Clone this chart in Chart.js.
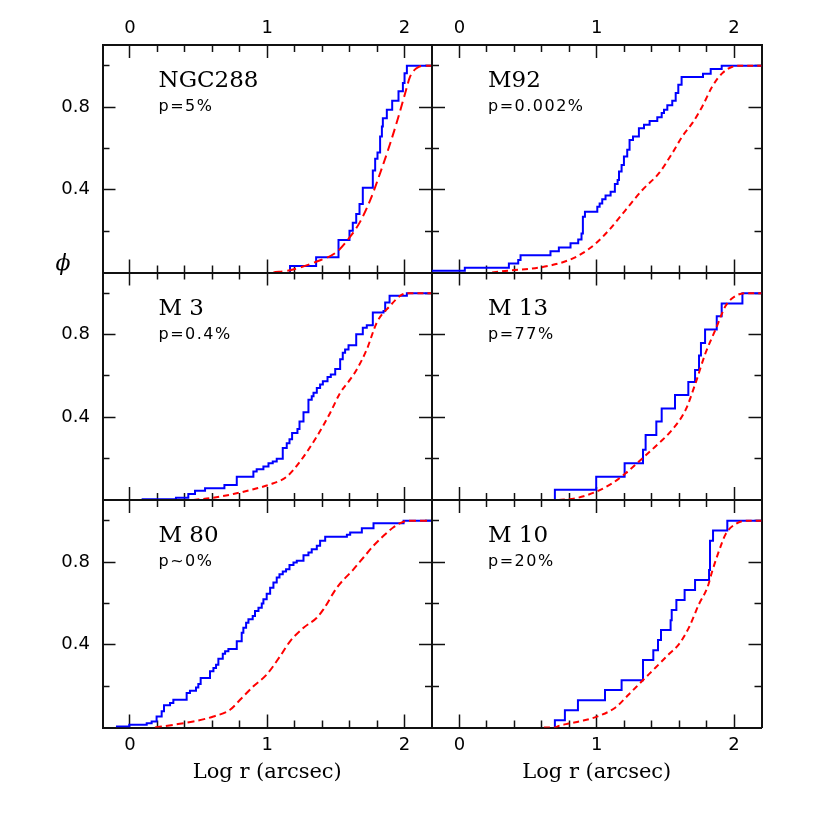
<!DOCTYPE html>
<html>
<head>
<meta charset="utf-8">
<script src="https://cdn.jsdelivr.net/npm/chart.js@4.4.0/dist/chart.umd.min.js"></script>
<style>
    html, body { margin: 0; padding: 0; background: #fff; }
    #wrap { position: relative; width: 830px; height: 830px; }
    #wrap canvas { position: absolute; left: 0; top: 0; }
</style>
</head>
<body>
<div id="wrap"></div>
<script>
// axis ticks
const xMajorTicks = [0, 1, 2];
const xMinorTicks = [0.2, 0.4, 0.6, 0.8, 1.2, 1.4, 1.6, 1.8];
const yMajorTicks = [0.4, 0.8];
const yMinorTicks = [0.2, 0.6, 1.0];

const clusterNames = ['NGC288', 'M92', 'M 3', 'M 13', 'M 80', 'M 10'];
const pValues = ['p=5%', 'p=0.002%', 'p=0.4%', 'p=77%', 'p~0%', 'p=20%'];

// NGC288
const ngc288ObsX = [1.166, 1.166, 1.356, 1.519, 1.599, 1.623, 1.648, 1.672, 1.696, 1.769, 1.786, 1.803, 1.822, 1.835, 1.842, 1.871, 1.910, 1.956, 1.988, 2.000, 2.017, 2.2];
const ngc288ObsY = [0, 0.031, 0.074, 0.157, 0.202, 0.241, 0.283, 0.331, 0.410, 0.493, 0.55, 0.580, 0.657, 0.706, 0.746, 0.787, 0.830, 0.876, 0.916, 0.964, 1.0, 1.0];
const ngc288ModX = [1.045, 1.166, 1.356, 1.507, 1.604, 1.677, 1.75, 1.822, 1.896, 1.956, 2.005, 2.041, 2.09, 2.139, 2.2];
const ngc288ModY = [0, 0.011, 0.052, 0.10, 0.173, 0.246, 0.35, 0.48, 0.625, 0.754, 0.868, 0.948, 0.989, 1.0, 1.0];

// M92
const m92ObsX = [-0.2, 0.039, 0.360, 0.428, 0.445, 0.663, 0.724, 0.809, 0.865, 0.889, 0.899, 0.914, 1.004, 1.021, 1.040, 1.064, 1.101, 1.132, 1.152, 1.162, 1.181, 1.198, 1.222, 1.239, 1.264, 1.307, 1.344, 1.385, 1.441, 1.473, 1.490, 1.514, 1.550, 1.575, 1.594, 1.618, 1.774, 1.830, 1.910, 2.2];
const m92ObsY = [0.008, 0.023, 0.044, 0.060, 0.084, 0.103, 0.121, 0.141, 0.160, 0.189, 0.270, 0.294, 0.318, 0.334, 0.354, 0.372, 0.391, 0.428, 0.447, 0.488, 0.520, 0.561, 0.593, 0.641, 0.658, 0.698, 0.714, 0.733, 0.751, 0.771, 0.787, 0.809, 0.830, 0.868, 0.908, 0.945, 0.961, 0.984, 1.0, 1.0];
const m92ModX = [0.238, 0.384, 0.53, 0.676, 0.797, 0.894, 0.992, 1.089, 1.21, 1.332, 1.453, 1.55, 1.623, 1.696, 1.769, 1.842, 1.915, 1.988, 2.036, 2.2];
const m92ModY = [0, 0.011, 0.019, 0.036, 0.06, 0.092, 0.14, 0.205, 0.302, 0.399, 0.48, 0.577, 0.658, 0.722, 0.803, 0.9, 0.964, 0.995, 1.0, 1.0];

// M3
const m3ObsX = [0.085, 0.335, 0.425, 0.474, 0.547, 0.688, 0.778, 0.899, 0.923, 0.972, 1.009, 1.040, 1.069, 1.113, 1.142, 1.162, 1.181, 1.220, 1.235, 1.264, 1.300, 1.324, 1.337, 1.361, 1.385, 1.405, 1.439, 1.463, 1.495, 1.531, 1.550, 1.567, 1.592, 1.648, 1.696, 1.725, 1.769, 1.847, 1.859, 1.891, 2.017, 2.2];
const m3ObsY = [0.004, 0.011, 0.029, 0.045, 0.057, 0.073, 0.113, 0.138, 0.149, 0.162, 0.178, 0.186, 0.199, 0.251, 0.275, 0.294, 0.324, 0.343, 0.380, 0.424, 0.485, 0.502, 0.518, 0.542, 0.558, 0.574, 0.595, 0.607, 0.634, 0.680, 0.712, 0.728, 0.748, 0.801, 0.833, 0.845, 0.906, 0.914, 0.955, 0.987, 1.0, 1.0];
const m3ModX = [0.462, 0.608, 0.753, 0.899, 1.045, 1.142, 1.239, 1.361, 1.458, 1.531, 1.604, 1.652, 1.725, 1.798, 1.895, 1.968, 2.017, 2.2];
const m3ModY = [0, 0.011, 0.029, 0.052, 0.081, 0.113, 0.186, 0.307, 0.421, 0.518, 0.583, 0.631, 0.728, 0.858, 0.939, 0.987, 1.0, 1.0];

// M13
const m13ObsX = [0.695, 0.695, 0.996, 1.203, 1.337, 1.356, 1.434, 1.473, 1.570, 1.667, 1.716, 1.745, 1.759, 1.789, 1.874, 1.910, 2.061, 2.2];
const m13ObsY = [0, 0.049, 0.113, 0.178, 0.243, 0.314, 0.379, 0.443, 0.508, 0.570, 0.629, 0.699, 0.759, 0.824, 0.888, 0.950, 1.0, 1.0];
const m13ModX = [0.724, 0.846, 0.996, 1.113, 1.21, 1.307, 1.453, 1.55, 1.648, 1.72, 1.793, 1.866, 1.939, 2.012, 2.085, 2.2];
const m13ModY = [0, 0.008, 0.04, 0.081, 0.129, 0.186, 0.275, 0.340, 0.437, 0.566, 0.712, 0.825, 0.939, 0.987, 1.0, 1.0];

// M80
const m80ObsX = [-0.102, -0.005, 0.122, 0.158, 0.194, 0.231, 0.248, 0.292, 0.316, 0.413, 0.437, 0.481, 0.498, 0.515, 0.583, 0.608, 0.627, 0.644, 0.676, 0.693, 0.717, 0.778, 0.814, 0.826, 0.846, 0.863, 0.894, 0.911, 0.936, 0.960, 0.972, 0.996, 1.021, 1.045, 1.069, 1.089, 1.113, 1.137, 1.162, 1.191, 1.215, 1.264, 1.300, 1.324, 1.361, 1.385, 1.422, 1.580, 1.604, 1.689, 1.774, 1.993, 2.2];
const m80ObsY = [0.005, 0.013, 0.021, 0.029, 0.053, 0.078, 0.107, 0.118, 0.134, 0.167, 0.178, 0.194, 0.210, 0.239, 0.272, 0.288, 0.304, 0.333, 0.356, 0.369, 0.380, 0.417, 0.458, 0.482, 0.506, 0.523, 0.539, 0.563, 0.579, 0.599, 0.620, 0.647, 0.676, 0.701, 0.725, 0.741, 0.754, 0.765, 0.786, 0.798, 0.806, 0.833, 0.846, 0.862, 0.879, 0.903, 0.922, 0.932, 0.943, 0.964, 0.987, 1.0, 1.0];
const m80ModX = [0.182, 0.316, 0.462, 0.608, 0.729, 0.802, 0.899, 0.996, 1.094, 1.166, 1.264, 1.361, 1.409, 1.507, 1.628, 1.701, 1.774, 1.847, 1.920, 1.981, 2.041, 2.2];
const m80ModY = [0, 0.013, 0.029, 0.053, 0.086, 0.134, 0.199, 0.256, 0.345, 0.417, 0.482, 0.531, 0.571, 0.676, 0.765, 0.822, 0.879, 0.927, 0.968, 0.992, 1.0, 1.0];

// M10
const m10ObsX = [0.695, 0.695, 0.768, 0.863, 1.060, 1.181, 1.337, 1.412, 1.446, 1.468, 1.538, 1.546, 1.580, 1.640, 1.716, 1.818, 1.825, 1.847, 1.951, 2.2];
const m10ObsY = [0, 0.035, 0.084, 0.132, 0.181, 0.229, 0.326, 0.374, 0.423, 0.471, 0.519, 0.568, 0.616, 0.665, 0.713, 0.761, 0.903, 0.952, 1.0, 1.0];
const m10ModX = [0.615, 0.695, 0.724, 0.797, 0.894, 1.016, 1.137, 1.235, 1.332, 1.429, 1.526, 1.599, 1.672, 1.745, 1.806, 1.842, 1.891, 1.939, 2.012, 2.097, 2.2];
const m10ModY = [0, 0, 0.008, 0.019, 0.032, 0.056, 0.097, 0.161, 0.226, 0.29, 0.355, 0.403, 0.484, 0.597, 0.677, 0.758, 0.855, 0.935, 0.984, 1.0, 1.0];

const panels = [
    { obs: [ngc288ObsX, ngc288ObsY], mod: [ngc288ModX, ngc288ModY], dash: [9, 5] },
    { obs: [m92ObsX, m92ObsY], mod: [m92ModX, m92ModY], dash: [6, 4] },
    { obs: [m3ObsX, m3ObsY], mod: [m3ModX, m3ModY], dash: [6, 4] },
    { obs: [m13ObsX, m13ObsY], mod: [m13ModX, m13ModY], dash: [6, 4] },
    { obs: [m80ObsX, m80ObsY], mod: [m80ModX, m80ModY], dash: [7, 4] },
    { obs: [m10ObsX, m10ObsY], mod: [m10ModX, m10ModY], dash: [6, 4] }
];

// page geometry of the 3x2 grid
const colEdges = [102.5, 432, 761.5];
const rowEdges = [45, 272.5, 500, 727.5];
const W = 830, H = 830;

Chart.defaults.font.family = '"DejaVu Sans", sans-serif';
Chart.defaults.color = '#000';

function toPoints(xs, ys) {
    return xs.map((x, i) => ({ x: x, y: ys[i] }));
}

function tickAxis(axis, position, list, len, showLabels, size, weight, extra) {
    const horizontal = axis === 'x';
    return Object.assign({
        type: 'linear',
        axis: axis,
        position: position,
        display: true,
        weight: weight,
        min: horizontal ? -0.2 : 0,
        max: horizontal ? 2.2 : 1.1,
        afterBuildTicks: function(scale) {
            scale.ticks = list.map(v => ({ value: v }));
        },
        afterFit: function(scale) {
            if (horizontal) {
                scale.height = size;
            } else {
                scale.width = size;
            }
        },
        grid: {
            display: true,
            drawOnChartArea: false,
            drawTicks: true,
            tickLength: -len,
            tickWidth: 1.5,
            tickColor: '#111'
        },
        border: { display: true, color: '#111', width: 2 },
        ticks: {
            display: showLabels,
            autoSkip: false,
            maxRotation: 0,
            font: { size: 18 },
            color: '#000',
            padding: 0
        }
    }, extra || {});
}

// panel text (names, p values, phi)
const labelPlugin = {
    id: 'panelLabels',
    afterDraw: function(chart, args, opts) {
        const ctx = chart.ctx;
        const a = chart.chartArea;
        ctx.save();
        ctx.fillStyle = '#000';
        ctx.textAlign = 'left';
        ctx.textBaseline = 'alphabetic';
        ctx.font = '23px "DejaVu Serif"';
        ctx.fillText(opts.name, a.left + 56, a.top + 42);
        ctx.font = '16px "DejaVu Sans"';
        ctx.letterSpacing = '1.5px';
        ctx.fillText(opts.p, a.left + 56, a.top + 66);
        ctx.letterSpacing = '0px';
        if (opts.phi) {
            ctx.font = 'italic 22px "DejaVu Serif"';
            ctx.textAlign = 'center';
            ctx.textBaseline = 'middle';
            ctx.fillText('\u03D5', 63, 264);
        }
        ctx.restore();
    }
};

const wrap = document.getElementById('wrap');

panels.forEach(function(panel, i) {
    const row = Math.floor(i / 2);
    const col = i % 2;
    const left = colEdges[col], right = colEdges[col + 1];
    const top = rowEdges[row], bottom = rowEdges[row + 1];

    const leftW = col === 0 ? 50 : 0;
    const topH = row === 0 ? 35 : 0;
    const bottomH = row === 2 ? 60 : 0;

    const canvas = document.createElement('canvas');
    canvas.width = W;
    canvas.height = H;
    canvas.style.width = W + 'px';
    canvas.style.height = H + 'px';
    wrap.appendChild(canvas);

    new Chart(canvas, {
        type: 'line',
        data: {
            datasets: [{
                label: 'model',
                data: toPoints(panel.mod[0], panel.mod[1]),
                borderColor: '#ff0000',
                borderWidth: 2,
                borderDash: panel.dash,
                cubicInterpolationMode: 'monotone',
                pointRadius: 0,
                fill: false,
                xAxisID: 'x',
                yAxisID: 'y'
            }, {
                label: 'observed',
                data: toPoints(panel.obs[0], panel.obs[1]),
                borderColor: '#0000ff',
                borderWidth: 2,
                stepped: 'before',
                pointRadius: 0,
                fill: false,
                xAxisID: 'x',
                yAxisID: 'y'
            }]
        },
        options: {
            responsive: false,
            animation: false,
            devicePixelRatio: 1,
            layout: {
                padding: {
                    left: left - leftW,
                    top: top - topH,
                    right: W - right,
                    bottom: H - bottom - bottomH
                }
            },
            plugins: {
                legend: { display: false },
                tooltip: { enabled: false },
                panelLabels: { name: clusterNames[i], p: pValues[i], phi: i === 0 }
            },
            scales: {
                x: tickAxis('x', 'bottom', xMajorTicks, 13, row === 2, bottomH, 1, {
                    ticks: { display: row === 2, autoSkip: false, maxRotation: 0, font: { size: 18 }, color: '#000', padding: 19.7 },
                    title: {
                        display: row === 2,
                        text: 'Log r (arcsec)',
                        font: { family: '"DejaVu Serif"', size: 21 },
                        color: '#000',
                        padding: { top: 0, bottom: 2 }
                    }
                }),
                xm: tickAxis('x', 'bottom', xMinorTicks, 7, false, 0, 0),
                xt: tickAxis('x', 'top', xMajorTicks, 13, row === 0, topH, 1, {
                    ticks: { display: row === 0, autoSkip: false, maxRotation: 0, font: { size: 18 }, color: '#000', padding: 18.7 }
                }),
                xtm: tickAxis('x', 'top', xMinorTicks, 7, false, 0, 0),
                y: tickAxis('y', 'left', yMajorTicks, 13, col === 0, leftW, 1, {
                    ticks: { display: col === 0, autoSkip: false, font: { size: 18 }, color: '#000', padding: 25.5 }
                }),
                ym: tickAxis('y', 'left', yMinorTicks, 7, false, 0, 0),
                yr: tickAxis('y', 'right', yMajorTicks, 13, false, 0, 1),
                yrm: tickAxis('y', 'right', yMinorTicks, 7, false, 0, 0)
            }
        },
        plugins: [labelPlugin]
    });
});
</script>
</body>
</html>
